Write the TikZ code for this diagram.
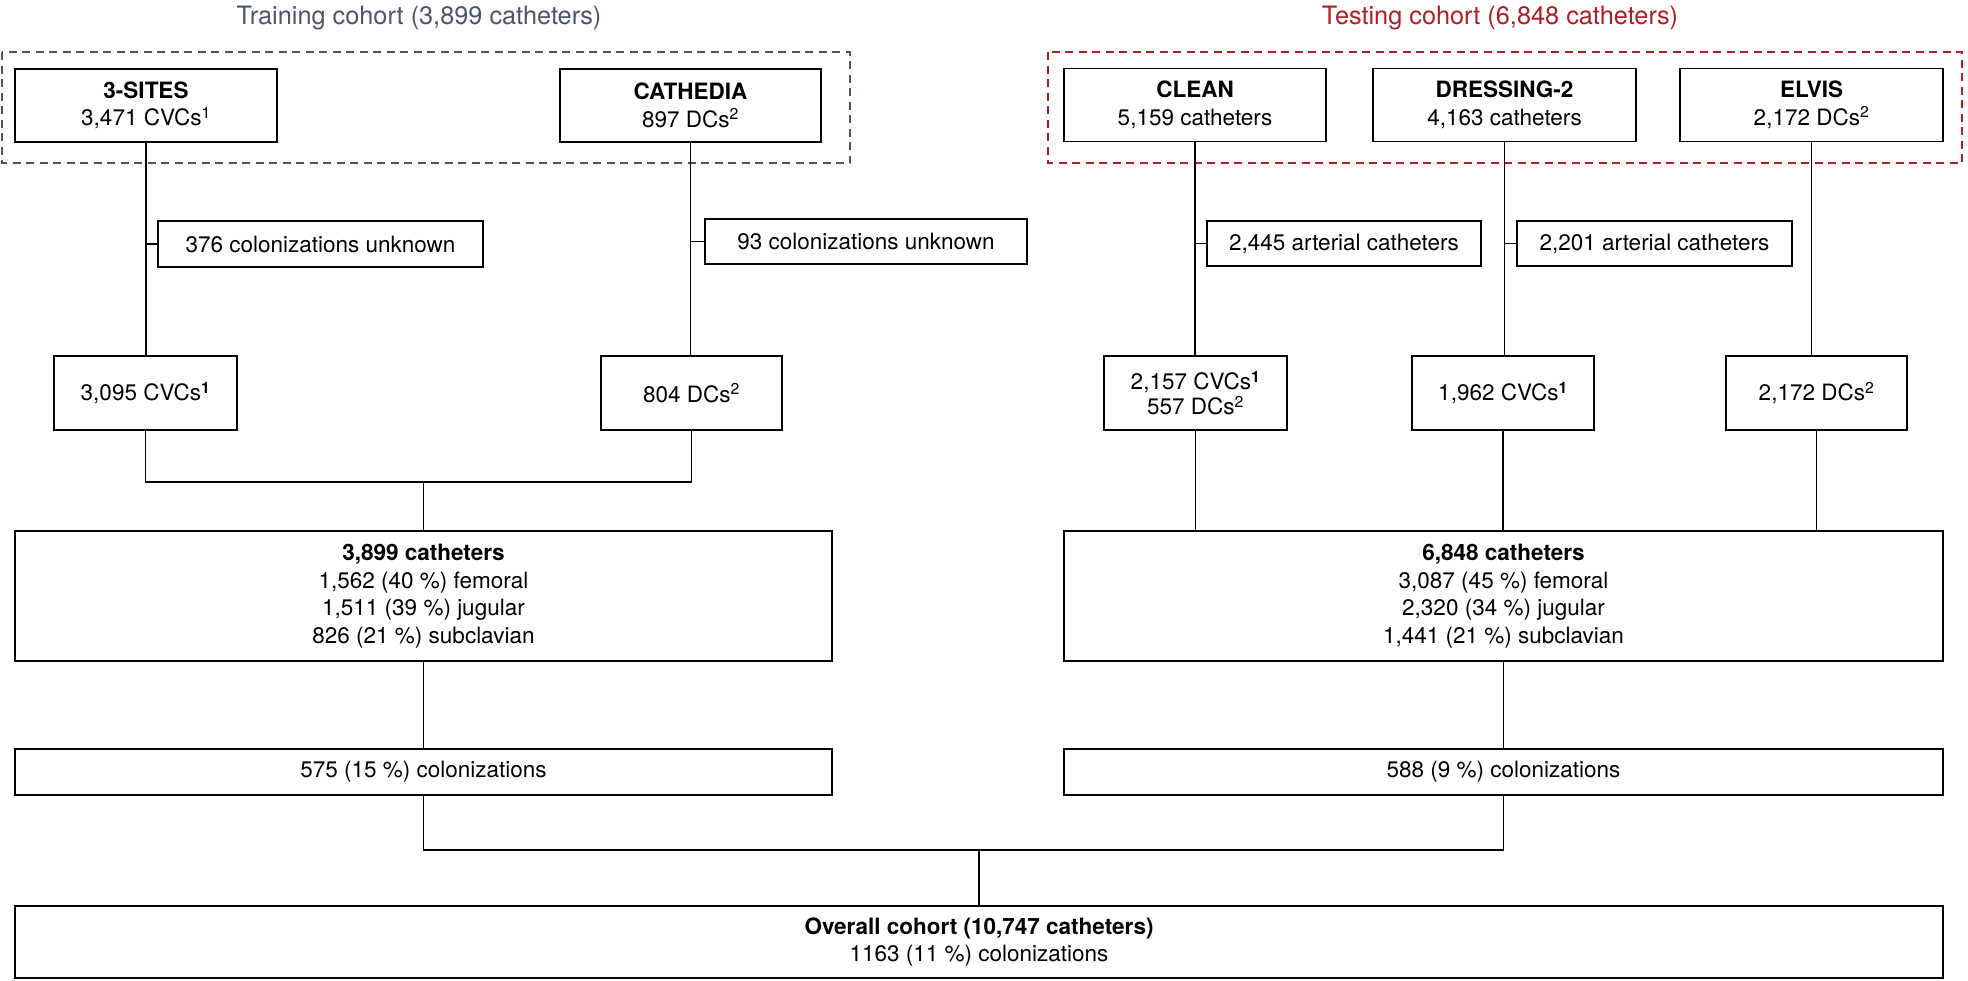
\documentclass[tikz,border=0pt]{standalone}
\usepackage{fontspec}
\setmainfont{TeX Gyre Heros}
\definecolor{trainc}{HTML}{4A5568}
\definecolor{testc}{HTML}{B01E23}
\begin{document}
\begin{tikzpicture}[x=1pt,y=-1pt,
  box/.style={draw, line width=1.8pt, align=center, inner sep=0pt, font={\fontsize{22.5}{27.5}\selectfont}},
  conn/.style={line width=1.2pt},
  cohort/.style={line width=2.6pt, dash pattern=on 8pt off 5.5pt},
  title/.style={font={\fontsize{25.3}{29}\selectfont}, inner sep=0pt}]
\useasboundingbox (0,0) rectangle (1968,980);

% titles and cohort frames
\node[title, text=trainc] (ttrain) at (419,18) {Training cohort (3,899 catheters)};
\node[title, text=testc] (ttest) at (1500,18) {Testing cohort (6,848 catheters)};
\draw[cohort, draw=trainc] (2,52) rectangle (850,163);
\draw[cohort, draw=testc] (1048,52) rectangle (1962,163);

% study boxes
\node[box, minimum width=262pt, minimum height=73pt] (sites) at (146,105.5) {\textbf{3-SITES}\\3,471 CVCs\textsuperscript{1}};
\node[box, minimum width=261pt, minimum height=73pt] (cath) at (690.5,105.5) {\textbf{CATHEDIA}\\897 DCs\textsuperscript{2}};
\node[box, minimum width=262pt, minimum height=73pt] (clean) at (1195,105) {\textbf{CLEAN}\\5,159 catheters};
\node[box, minimum width=263pt, minimum height=73pt] (dress) at (1504.5,105) {\textbf{DRESSING-2}\\4,163 catheters};
\node[box, minimum width=263pt, minimum height=73pt] (elvis) at (1811.5,105) {\textbf{ELVIS}\\2,172 DCs\textsuperscript{2}};

% exclusion boxes
\node[box, minimum width=325pt, minimum height=46pt] (ex376) at (320.5,244) {376 colonizations unknown};
\node[box, minimum width=322pt, minimum height=45pt] (ex93) at (866,241.5) {93 colonizations unknown};
\node[box, minimum width=274pt, minimum height=45pt] (ex2445) at (1344,243.5) {2,445 arterial catheters};
\node[box, minimum width=275pt, minimum height=45pt] (ex2201) at (1654.5,243.5) {2,201 arterial catheters};

% retained boxes
\node[box, minimum width=183pt, minimum height=74pt] (r3095) at (145.5,393) {3,095 CVCs\textsuperscript{\textbf{1}}};
\node[box, minimum width=181pt, minimum height=74pt] (r804) at (691.5,393) {804 DCs\textsuperscript{2}};
\node[box, minimum width=183pt, minimum height=74pt, font={\fontsize{22.5}{25}\selectfont}] (r2157) at (1195.5,393) {2,157 CVCs\textsuperscript{\textbf{1}}\\557 DCs\textsuperscript{2}};
\node[box, minimum width=182pt, minimum height=74pt] (r1962) at (1503,393) {1,962 CVCs\textsuperscript{\textbf{1}}};
\node[box, minimum width=181pt, minimum height=74pt] (r2172) at (1816.5,393) {2,172 DCs\textsuperscript{2}};

% totals
\node[box, minimum width=817pt, minimum height=130pt] (tot1) at (423.5,596) {\textbf{3,899 catheters}\\1,562 (40 \%) femoral\\1,511 (39 \%) jugular\\826 (21 \%) subclavian};
\node[box, minimum width=879pt, minimum height=130pt] (tot2) at (1503.5,596) {\textbf{6,848 catheters}\\3,087 (45 \%) femoral\\2,320 (34 \%) jugular\\1,441 (21 \%) subclavian};

\node[box, minimum width=817pt, minimum height=46pt] (col1) at (423.5,772) {575 (15 \%) colonizations};
\node[box, minimum width=879pt, minimum height=46pt] (col2) at (1503.5,772) {588 (9 \%) colonizations};

\node[box, minimum width=1928pt, minimum height=72pt] (all) at (979,942) {\textbf{Overall cohort (10,747 catheters)}\\1163 (11 \%) colonizations};

% junction points
\coordinate (j1) at (423.5,482);
\coordinate (j2) at (979,850);

% connectors
\draw[conn] (sites.south) -- (sites.south |- r3095.north);
\draw[conn] (cath.south) -- (cath.south |- r804.north);
\draw[conn] (clean.south) -- (clean.south |- r2157.north);
\draw[conn] (dress.south) -- (dress.south |- r1962.north);
\draw[conn] (elvis.south) -- (elvis.south |- r2172.north);

\draw[conn] (ex376.west) -- (ex376.west -| sites.south);
\draw[conn] (ex93.west) -- (ex93.west -| cath.south);
\draw[conn] (ex2445.west) -- (ex2445.west -| clean.south);
\draw[conn] (ex2201.west) -- (ex2201.west -| dress.south);

\draw[conn] (r3095.south) -- (r3095.south |- j1) -- (r804.south |- j1) -- (r804.south);
\draw[conn] (j1) -- (tot1.north);

\draw[conn] (r2157.south) -- (r2157.south |- tot2.north);
\draw[conn] (r1962.south) -- (r1962.south |- tot2.north);
\draw[conn] (r2172.south) -- (r2172.south |- tot2.north);

\draw[conn] (tot1.south) -- (col1.north);
\draw[conn] (tot2.south) -- (col2.north);

\draw[conn] (col1.south) -- (col1.south |- j2) -- (col2.south |- j2) -- (col2.south);
\draw[conn] (j2) -- (all.north);
\end{tikzpicture}
\end{document}
